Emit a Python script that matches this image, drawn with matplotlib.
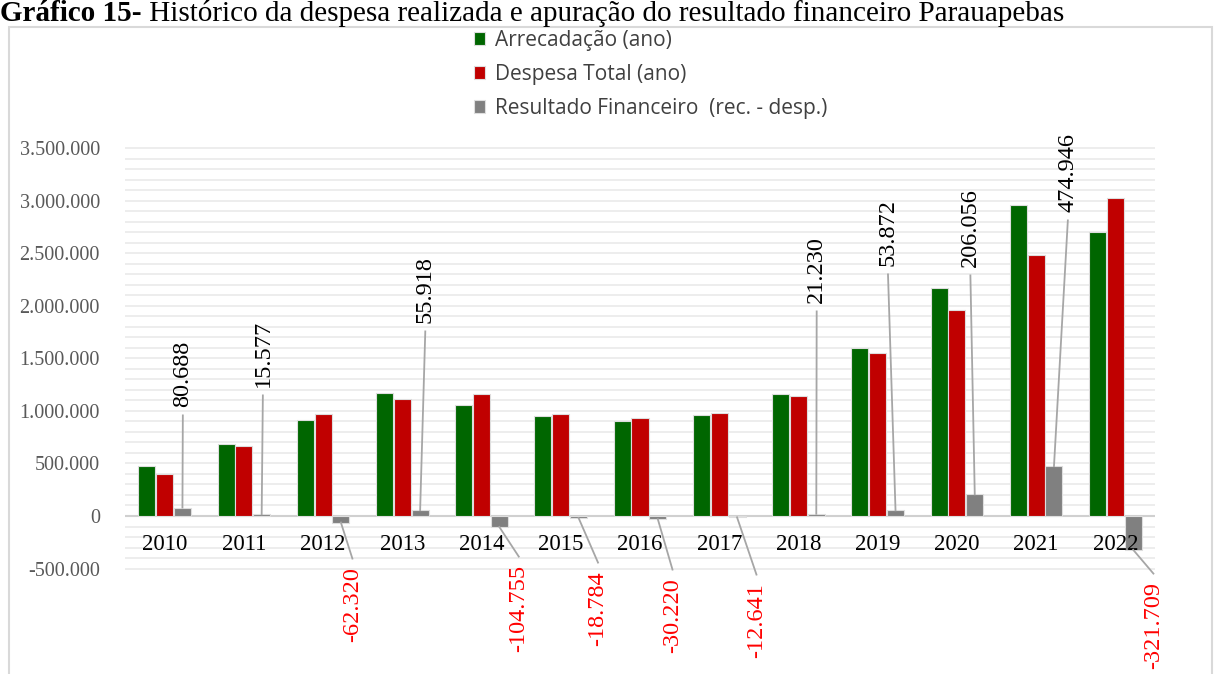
import matplotlib.pyplot as plt
from matplotlib.patches import Rectangle

# values in R$ thousand
anos = ['2010', '2011', '2012', '2013', '2014', '2015', '2016',
        '2017', '2018', '2019', '2020', '2021', '2022']
arrecadacao = [480000, 685000, 910000, 1172000, 1055000, 950000, 900000,
               965000, 1160000, 1600000, 2167000, 2962000, 2703000]
despesa = [399312, 669423, 972320, 1116082, 1159755, 968784, 930220,
           977641, 1138770, 1546128, 1960944, 2487054, 3024709]
resultado = [80688, 15577, -62320, 55918, -104755, -18784, -30220,
             -12641, 21230, 53872, 206056, 474946, -321709]

legenda = ['Arrecadação (ano)', 'Despesa Total (ano)',
           'Resultado Financeiro  (rec. - desp.)']
titulo_bold = 'Gráfico 15-'
titulo = ' Histórico da despesa realizada e apuração do resultado financeiro Parauapebas'

# where the (hand placed) data labels sit: x offset from the year, y of label end
lbl_dx = [0.23, 0.24, 0.37, 0.29, 0.47, 0.47, 0.41, 0.47, 0.23, 0.13, 0.17, 0.40, 0.48]
lbl_y = [1036700, 1226900, -485000, 1835600, -466000, -523100, -589700,
         -637200, 2025800, 2377800, 2368200, 2891300, -627700]

W, H = 1219, 674
fig = plt.figure(figsize=(W / 100, H / 100), dpi=100)
ax = fig.add_axes([125 / W, 0, (1155 - 125) / W, (674 - 130) / H])

upp = 3500000 / 368  # data units per pixel
ax.set_ylim(-(674 - 516) * upp, (516 - 130) * upp)
ax.set_xlim(-0.5, len(anos) - 0.5)

# light grid every 100.000 from -500.000 to 3.500.000
grid = list(range(-500000, 3500001, 100000))
ax.hlines(grid, -0.5, len(anos) - 0.5, color='#ececec', lw=1.3, zorder=0)
ax.axhline(0, color='#d0d0d0', lw=1.5, zorder=1)

x = list(range(len(anos)))
bw = 0.215
off = 0.225
edge = dict(edgecolor='#dedede', linewidth=0.8, zorder=2)
b1 = ax.bar([i - off for i in x], arrecadacao, bw, color='#006600', label=legenda[0], **edge)
b2 = ax.bar(x, despesa, bw, color='#c00000', label=legenda[1], **edge)
b3 = ax.bar([i + off for i in x], resultado, bw, color='#808080', label=legenda[2], **edge)

# year labels sit inside the plot, just under zero
for i, a in enumerate(anos):
    ax.text(i, -271000, a, ha='center', va='center', fontsize=16.5,
            family='Liberation Serif', color='black')

# data labels of the result, with leader lines
gap = 80000
for i, v in enumerate(resultado):
    s = f"{v:,}".replace(',', '.')
    tx = i + lbl_dx[i]
    ty = lbl_y[i]
    if v >= 0:
        ax.plot([i + off, tx], [v, ty - gap], color='#a6a6a6', lw=1.3, zorder=3)
        ax.text(tx, ty, s, rotation=90, ha='center', va='bottom', fontsize=17.5,
                family='Liberation Serif', color='black')
    else:
        ax.plot([i + off, tx], [v, ty + gap], color='#a6a6a6', lw=1.3, zorder=3)
        ax.text(tx, ty, s, rotation=90, ha='center', va='top', fontsize=17.5,
                family='Liberation Serif', color='#ff0000')

ticks = list(range(-500000, 3500001, 500000))
ax.set_yticks(ticks)
ax.set_yticklabels([f"{t:,}".replace(',', '.') for t in ticks],
                   family='Liberation Serif', fontsize=14.5, color='#595959')
ax.tick_params(axis='y', length=0, pad=18)
ax.set_xticks([])
for sp in ax.spines.values():
    sp.set_visible(False)
ax.patch.set_alpha(0)

fig.legend(handles=[b1, b2, b3], loc='upper left',
           bbox_to_anchor=(474 / W, 1 - 30 / H), frameon=False,
           prop={'family': 'Open Sans', 'size': 15},
           labelcolor='#404040', handlelength=0.55, handleheight=0.55,
           handletextpad=0.45, labelspacing=0.62, borderpad=0, borderaxespad=0)

# chart frame
fig.patches.append(Rectangle((9 / W, -0.01), (1212 - 9) / W, 1 - 27 / H + 0.01,
                             transform=fig.transFigure, fill=False,
                             edgecolor='#d9d9d9', lw=1.5))

# title
t1 = fig.text(0, 1 - 21 / H, titulo_bold, family='Liberation Serif', weight='bold',
              fontsize=21, va='baseline')
fig.canvas.draw()
bb = t1.get_window_extent()
fig.text(bb.x1 / W, 1 - 21 / H, titulo, family='Liberation Serif', fontsize=21,
         va='baseline')

fig.savefig('out.png', dpi=100)
